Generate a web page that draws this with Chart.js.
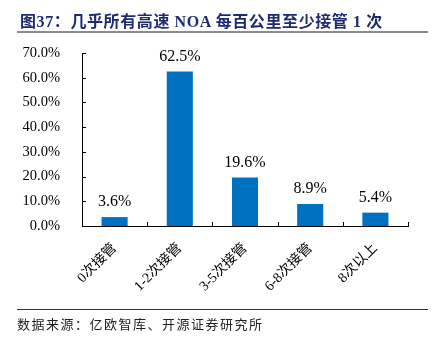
<!DOCTYPE html>
<html>
<head>
<meta charset="utf-8">
<script src="https://cdn.jsdelivr.net/npm/chart.js@4"></script>
<style>
  html, body { margin: 0; padding: 0; background: #fff; }
  #wrap { position: relative; width: 432px; height: 350px; overflow: hidden; }
  #title { position: absolute; left: 20px; top: 8px; font: bold 16px 'Liberation Serif', 'Noto Sans CJK SC', serif; letter-spacing: 0.6px; color: #1d2b6f; white-space: nowrap; }
  #tline { position: absolute; left: 17px; top: 31px; width: 411px; height: 2px; background: #8c8c8c; }
  #fline { position: absolute; left: 17px; top: 309px; width: 411px; height: 1px; background: #333; }
  #source { position: absolute; left: 17px; top: 314px; font: 13px 'Noto Sans CJK SC', serif; letter-spacing: 1.5px; color: #222; white-space: nowrap; }
  canvas { position: absolute; left: 0; top: 0; }
</style>
</head>
<body>
<div id="wrap">
  <canvas id="c" width="432" height="350"></canvas>
  <div id="title">图37：几乎所有高速 NOA 每百公里至少接管 1 次</div>
  <div id="tline"></div>
  <div id="fline"></div>
  <div id="source">数据来源：亿欧智库、开源证券研究所</div>
</div>
<script>
const categories = ['0次接管', '1-2次接管', '3-5次接管', '6-8次接管', '8次以上'];
const shares = [3.6, 62.5, 19.6, 8.9, 5.4];
const yTicks = [0, 10, 20, 30, 40, 50, 60, 70];

Chart.defaults.font.family = "'Liberation Serif', 'Noto Sans CJK SC', serif";
Chart.defaults.color = '#000';

const decor = {
  id: 'decor',
  afterDatasetsDraw(chart) {
    const ctx = chart.ctx;
    const x = chart.scales.x, y = chart.scales.y;
    const area = chart.chartArea;
    ctx.save();
    ctx.strokeStyle = '#000';
    ctx.lineWidth = 1;
    ctx.beginPath();
    yTicks.forEach(v => {
      const py = Math.round(y.getPixelForValue(v)) + 0.5;
      ctx.moveTo(area.left, py); ctx.lineTo(area.left + 4, py);
    });
    const n = categories.length;
    for (let i = 1; i <= n; i++) {
      const px = Math.round(x.getPixelForValue(i - 0.5)) + 0.5;
      ctx.moveTo(px, area.bottom); ctx.lineTo(px, area.bottom - 4);
    }
    ctx.stroke();
    // data labels
    const meta = chart.getDatasetMeta(0);
    ctx.fillStyle = '#000';
    ctx.font = "16px 'Liberation Serif', serif";
    ctx.textAlign = 'center';
    ctx.textBaseline = 'alphabetic';
    meta.data.forEach((bar, i) => {
      ctx.fillText(shares[i].toFixed(1) + '%', bar.x, bar.y - 11);
    });
    ctx.restore();
  }
};

new Chart(document.getElementById('c'), {
  type: 'bar',
  data: {
    labels: categories,
    datasets: [{
      data: shares,
      backgroundColor: '#0070C0',
      barPercentage: 0.4,
      categoryPercentage: 1.0
    }]
  },
  options: {
    responsive: false,
    animation: false,
    layout: { padding: { top: 53, left: 0, right: 24, bottom: 0 } },
    plugins: { legend: { display: false }, tooltip: { enabled: false } },
    scales: {
      x: {
        grid: { display: false },
        border: { display: true, color: '#000', width: 1 },
        ticks: { font: { size: 14 }, maxRotation: 45, minRotation: 45, padding: 6, color: '#000' },
        afterFit(s) { s.height = 124; }
      },
      y: {
        min: 0, max: 70,
        grid: { display: false },
        border: { display: true, color: '#000', width: 1 },
        ticks: {
          stepSize: 10,
          padding: 14,
          font: { size: 14.5 },
          color: '#000',
          callback: v => v.toFixed(1) + '%'
        },
        afterFit(s) { s.width = 82; }
      }
    }
  },
  plugins: [decor]
});
</script>
</body>
</html>
